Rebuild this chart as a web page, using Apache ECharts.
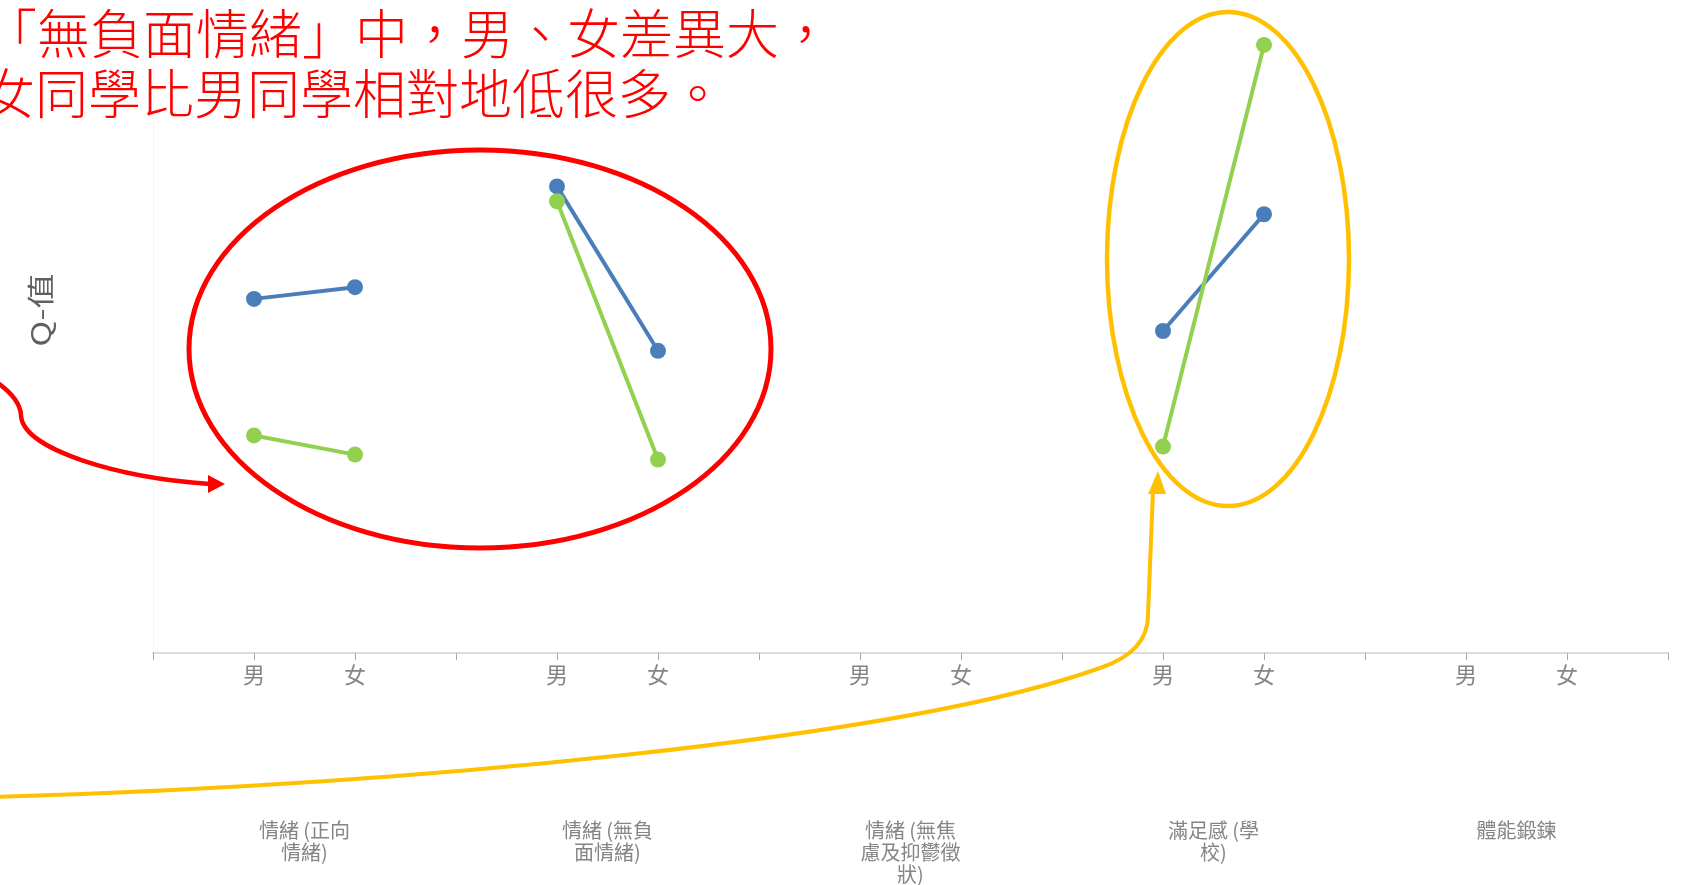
<!DOCTYPE html>
<html><head><meta charset="utf-8">
<script src="https://cdn.jsdelivr.net/npm/echarts@6/dist/echarts.min.js"></script>
<style>html,body{margin:0;padding:0;background:#fff;overflow:hidden}#c{width:1699px;height:885px}</style>
</head><body><div id="c"></div>
<script>
// ---- data ----
const groups = ['情緒 (正向\n情緒)', '情緒 (無負\n面情緒)', '情緒 (無焦\n慮及抑鬱徵\n狀)', '滿足感 (學\n校)', '體能鍛鍊'];
const sexes = ['男', '女'];
const blueValues  = [5.73, 5.92, 7.55, 4.89, null, null, 5.21, 7.10, null, null];
const greenValues = [3.52, 3.21, 7.31, 3.13, null, null, 3.34, 9.84, null, null];
const yAxisName = 'Q-值';
const noteLines = ['「無負面情緒」中，男、女差異大，', '女同學比男同學相對地低很多。'];

// ---- slots: boundary, 男, 女 per group, then final boundary ----
const slots = [], slotBlue = [], slotGreen = [];
groups.forEach((g, gi) => {
  slots.push(''); slotBlue.push(null); slotGreen.push(null);
  sexes.forEach((s, si) => {
    slots.push(s);
    slotBlue.push(blueValues[gi * 2 + si]);
    slotGreen.push(greenValues[gi * 2 + si]);
  });
});
slots.push(''); slotBlue.push(null); slotGreen.push(null);

const FONT = '"Noto Sans CJK TC", "Noto Sans", sans-serif';
const chart = echarts.init(document.getElementById('c'));
chart.setOption({
  animation: false,
  backgroundColor: '#fff',
  grid: { left: 153, right: 31, top: 35, bottom: 229, containLabel: false },
  xAxis: [{
    type: 'category', data: slots, boundaryGap: false,
    axisLine: { lineStyle: { color: '#dcdcdc', width: 2 } },
    axisTick: { interval: 0, length: 7, lineStyle: { color: '#a6a6a6', width: 1 } },
    axisLabel: { interval: 0, margin: 11, fontSize: 22, color: '#858585', fontFamily: FONT },
    splitLine: { show: false }
  }, {
    type: 'category', data: groups, boundaryGap: true, position: 'bottom',
    axisLine: { show: false }, axisTick: { show: false },
    axisLabel: { interval: 0, margin: 166, fontSize: 20, lineHeight: 22, color: '#858585', fontFamily: FONT, verticalAlign: 'top' },
    splitLine: { show: false }
  }],
  yAxis: {
    type: 'value', min: 0, max: 10,
    axisLine: { show: true, lineStyle: { color: '#f3f3f3', width: 1 } },
    axisTick: { show: false }, axisLabel: { show: false }, splitLine: { show: false }
  },
  series: [{
    name: '男女比較1', type: 'line', data: slotBlue, connectNulls: false,
    symbol: 'circle', symbolSize: 16,
    lineStyle: { color: '#4a7ebb', width: 4 }, itemStyle: { color: '#4a7ebb' }, z: 3
  }, {
    name: '男女比較2', type: 'line', data: slotGreen, connectNulls: false,
    symbol: 'circle', symbolSize: 16,
    lineStyle: { color: '#92d050', width: 4 }, itemStyle: { color: '#92d050' }, z: 4
  }],
  graphic: [
    { type: 'text', rotation: Math.PI / 2, x: 41, y: 310, scaleX: 1.3, z: 10,
      style: { text: yAxisName, fill: '#606060', font: '27px ' + FONT, align: 'center', verticalAlign: 'middle' } },
    { type: 'text', x: -16, y: 34, z: 10,
      style: { text: noteLines[0], fill: '#ff0000', font: '300 53px ' + FONT, verticalAlign: 'middle' } },
    { type: 'text', x: -18, y: 94, z: 10,
      style: { text: noteLines[1], fill: '#ff0000', font: '300 53px ' + FONT, verticalAlign: 'middle' } },
    { type: 'ellipse', z: 10, shape: { cx: 480, cy: 349, rx: 291, ry: 199 },
      style: { fill: 'none', stroke: '#ff0000', lineWidth: 5 } },
    { type: 'ellipse', z: 10, shape: { cx: 1228, cy: 259, rx: 121, ry: 247 },
      style: { fill: 'none', stroke: '#ffc000', lineWidth: 4.5 } },
    { type: 'bezierCurve', z: 10, shape: { x1: -5, y1: 381, cpx1: 20, cpy1: 398, x2: 21, y2: 415 },
      style: { fill: 'none', stroke: '#ff0000', lineWidth: 4.5 } },
    { type: 'bezierCurve', z: 10, shape: { x1: 21, y1: 415, cpx1: 22, cpy1: 450, cpx2: 120, cpy2: 478, x2: 210, y2: 484 },
      style: { fill: 'none', stroke: '#ff0000', lineWidth: 4.5 } },
    { type: 'polygon', z: 10, shape: { points: [[225, 484], [208, 475], [208, 493]] },
      style: { fill: '#ff0000' } },
    { type: 'bezierCurve', z: 10, shape: { x1: -5, y1: 797, cpx1: 400, cpy1: 785, cpx2: 900, cpy2: 740, x2: 1100, y2: 668 },
      style: { fill: 'none', stroke: '#ffc000', lineWidth: 4 } },
    { type: 'bezierCurve', z: 10, shape: { x1: 1100, y1: 668, cpx1: 1148, cpy1: 652, x2: 1148, y2: 615 },
      style: { fill: 'none', stroke: '#ffc000', lineWidth: 4 } },
    { type: 'line', z: 10, shape: { x1: 1148, y1: 615, x2: 1153, y2: 490 },
      style: { stroke: '#ffc000', lineWidth: 4 } },
    { type: 'polygon', z: 10, shape: { points: [[1158, 471], [1148, 494], [1166, 494]] },
      style: { fill: '#ffc000' } }
  ]
});
</script></body></html>
